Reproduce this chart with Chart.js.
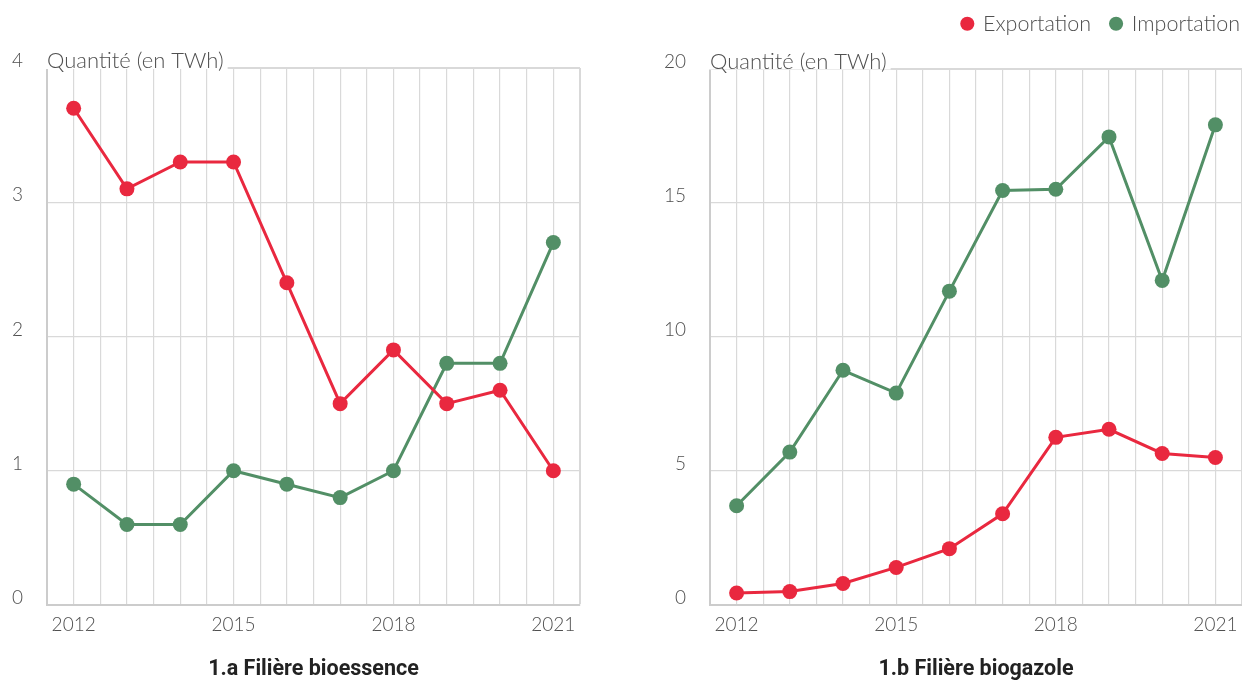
<!DOCTYPE html>
<html>
<head>
<meta charset="utf-8">
<script src="https://cdn.jsdelivr.net/npm/chart.js@4.4.0/dist/chart.umd.min.js"></script>
<style>
  body { margin: 0; background: #fff; }
  .wrap { position: absolute; top: 0; width: 621px; height: 680px; }
</style>
</head>
<body>
<div class="wrap" style="left:0"><canvas id="bioessence" width="621" height="680"></canvas></div>
<div class="wrap" style="left:621px"><canvas id="biogazole" width="621" height="680"></canvas></div>
<script>
const years = [2012, 2013, 2014, 2015, 2016, 2017, 2018, 2019, 2020, 2021];
const yearLabels = [2012, 2015, 2018, 2021];

// 1.a bioessence (TWh)
const bioessenceExport = [3.7, 3.1, 3.3, 3.3, 2.4, 1.5, 1.9, 1.5, 1.6, 1.0];
const bioessenceImport = [0.9, 0.6, 0.6, 1.0, 0.9, 0.8, 1.0, 1.8, 1.8, 2.7];

// 1.b biogazole (TWh)
const biogazoleExport = [0.45, 0.5, 0.8, 1.4, 2.1, 3.4, 6.25, 6.55, 5.65, 5.5];
const biogazoleImport = [3.7, 5.7, 8.75, 7.9, 11.7, 15.45, 15.5, 17.45, 12.1, 17.9];

const red = '#e9283f';
const green = '#528f66';
const textColor = '#505050';
const fontFamily = 'Lato, "Noto Sans", sans-serif';

const toPoints = (values) => years.map((year, i) => ({ x: year, y: values[i] }));

// "Quantité (en TWh)" written over the top grid line
const axisCaption = {
  id: 'axisCaption',
  beforeDatasetsDraw(chart, args, opts) {
    const { ctx, chartArea } = chart;
    const y = chart.scales.y.getPixelForValue(chart.scales.y.max) - 7;
    ctx.save();
    ctx.font = '300 22px ' + fontFamily;
    const w = ctx.measureText(opts.text).width;
    ctx.fillStyle = '#fff';
    ctx.fillRect(chartArea.left - 3, y - 16, w + 7, 24);
    ctx.fillStyle = textColor;
    ctx.textBaseline = 'middle';
    ctx.fillText(opts.text, chartArea.left, y);
    ctx.restore();
  }
};

// room under the legend + push it to the right edge
const legendGap = {
  id: 'legendGap',
  beforeInit(chart) {
    if (!chart.legend) return;
    const fit = chart.legend.fit;
    chart.legend.fit = function () {
      fit.bind(chart.legend)();
      this.height += 13;
    };
  },
  afterLayout(chart) {
    if (!chart.legend) return;
    chart.legend.left += 18;
    chart.legend.right += 18;
    chart.legend.top -= 11;
    chart.legend.bottom -= 11;
  }
};

const buildChart = (id, title, exportValues, importValues, yMax, yStep, yWidth, showLegend, pad) => {
  const ctx = document.getElementById(id).getContext('2d');
  return new Chart(ctx, {
    type: 'line',
    data: {
      datasets: [{
        label: 'Exportation',
        data: toPoints(exportValues),
        borderColor: red,
        backgroundColor: red,
        borderWidth: 3,
        pointRadius: 7.5,
        pointHoverRadius: 7.5,
        pointBorderWidth: 0
      }, {
        label: 'Importation',
        data: toPoints(importValues),
        borderColor: green,
        backgroundColor: green,
        borderWidth: 3,
        pointRadius: 7.5,
        pointHoverRadius: 7.5,
        pointBorderWidth: 0
      }]
    },
    options: {
      responsive: false,
      animation: false,
      layout: { padding: pad, autoPadding: false },
      scales: {
        x: {
          type: 'linear',
          min: 2011.5,
          max: 2021.5,
          afterFit: (scale) => { scale.paddingRight = 0; scale.paddingLeft = 0; },
          grid: {
            drawTicks: false,
            color: '#d9d9d9',
            lineWidth: (c) => (c.tick && c.tick.value === 2021.5 ? 2 : 1.2)
          },
          border: { color: '#cccccc', width: 2 },
          ticks: {
            stepSize: 0.5,
            autoSkip: false,
            maxRotation: 0,
            padding: 8,
            color: textColor,
            font: { family: fontFamily, size: 19, weight: 300 },
            callback: (v) => (yearLabels.includes(v) ? String(v) : '')
          }
        },
        y: {
          min: 0,
          max: yMax,
          afterFit: (scale) => { scale.width = yWidth; },
          grid: {
            drawTicks: false,
            color: '#d9d9d9',
            lineWidth: (c) => (c.tick && c.tick.value === yMax ? 2 : 1.2)
          },
          border: { color: '#cccccc', width: 2 },
          ticks: {
            stepSize: yStep,
            padding: 24,
            labelOffset: -7,
            color: textColor,
            font: { family: fontFamily, size: 19, weight: 300 }
          }
        }
      },
      plugins: {
        axisCaption: { text: 'Quantité (en TWh)' },
        legend: {
          display: showLegend,
          position: 'top',
          align: 'end',
          labels: {
            usePointStyle: true,
            pointStyle: 'circle',
            boxWidth: 10,
            boxHeight: 10,
            padding: 20,
            color: textColor,
            font: { family: fontFamily, size: 21.5, weight: 300 }
          }
        },
        title: {
          display: true,
          text: title,
          position: 'bottom',
          fullSize: false,
          color: '#222222',
          padding: { top: 13.4, bottom: -3 },
          font: { family: 'Roboto, sans-serif', size: 21.5, weight: 'bold' }
        },
        tooltip: { enabled: false }
      }
    },
    plugins: showLegend ? [axisCaption, legendGap] : [axisCaption]
  });
};

buildChart('bioessence', '1.a Filière bioessence', bioessenceExport, bioessenceImport, 4, 1, 47, false,
  { top: 68, right: 41, bottom: 0, left: 0 });
buildChart('biogazole', '1.b Filière biogazole', biogazoleExport, biogazoleImport, 20, 5, 89, true,
  { top: 4, right: 0, bottom: 0, left: 0 });
</script>
</body>
</html>
